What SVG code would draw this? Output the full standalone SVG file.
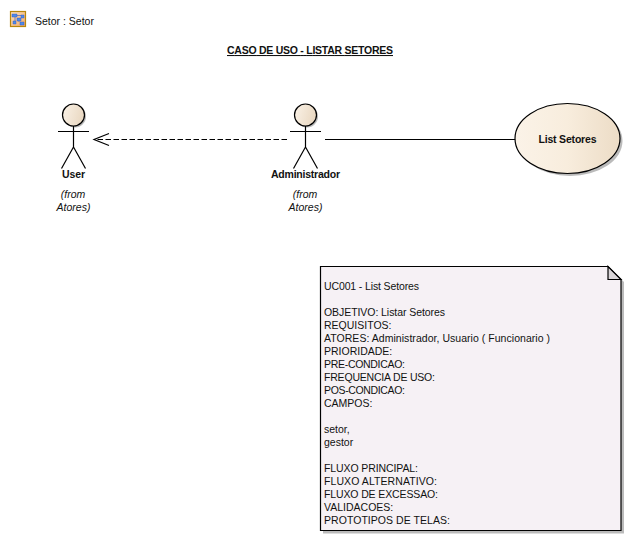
<svg xmlns="http://www.w3.org/2000/svg" width="630" height="540" viewBox="0 0 630 540">
<style>
text{font-family:"Liberation Sans",Arial,sans-serif;font-size:10.5px;fill:#111}
.b{font-weight:bold}
.i{font-style:italic}
.m{text-anchor:middle}
.l{fill:none;stroke:#000;stroke-width:1.2}
.sh{fill:#bbb}
.head{fill:url(#hg);stroke:#000;stroke-width:1.2}
</style>
<defs>
<linearGradient id="hg" x1="0" y1="0" x2="1" y2="0.3"><stop offset="0" stop-color="#fbf3e8"/><stop offset="1" stop-color="#ead9c3"/></linearGradient>
<linearGradient id="ug" x1="0" y1="0" x2="1" y2="0"><stop offset="0" stop-color="#fbf3e8"/><stop offset="0.5" stop-color="#f8eddd"/><stop offset="1" stop-color="#ecdcc6"/></linearGradient>
<linearGradient id="ig" x1="0" y1="0" x2="1" y2="1"><stop offset="0" stop-color="#fbe3c0"/><stop offset="1" stop-color="#f0a868"/></linearGradient>
<g id="actor">
<circle cx="1.500" cy="1.500" r="11" class="sh"/>
<circle cx="0" cy="0" r="11" class="head"/>
<path class="l" d="M-15.500 16.500H15.500M0 11V32M0 32L-12 53.500M0 32L12 53.500"/>
</g>
</defs>
<g id="header">
<rect x="10.500" y="11.500" width="15" height="15" fill="url(#ig)" stroke="#b8860b" stroke-width="1.200"/>
<path d="M12 14h5v3h-5zM17 18h4v3h-4zM13 21h3v3h-3zM21 15h3v3h-3zM20 22h4v3h-4z" fill="#4f8ae8" stroke="#2a50c0" stroke-width=".4"/>
<path d="M17 15.500H21M15 17V21M19 21V22" fill="none" stroke="#2a50c0" stroke-width=".6"/>
<text x="35" y="25">Setor : Setor</text>
</g>
<g id="title">
<text x="227" y="54" class="b" text-decoration="underline" textLength="166" lengthAdjust="spacing">CASO DE USO - LISTAR SETORES</text>
</g>
<g id="connectors">
<path d="M287 139.500H94" fill="none" stroke="#000" stroke-width="1.100" stroke-dasharray="5.500 2.500"/>
<path class="l" d="M109 133.500L94 139.500L109 145.500"/>
<path class="l" d="M325 139.500H516"/>
</g>
<g id="user">
<use href="#actor" x="73.500" y="115"/>
<text x="73.500" y="178" class="b m" textLength="23">User</text>
<text x="73" y="198" class="i m">(from</text>
<text x="73.500" y="211" class="i m">Atores)</text>
</g>
<g id="administrador">
<use href="#actor" x="305.500" y="115"/>
<text x="305.500" y="178" class="b m" textLength="69">Administrador</text>
<text x="305" y="198" class="i m">(from</text>
<text x="305.500" y="211" class="i m">Atores)</text>
</g>
<g id="list-setores">
<ellipse cx="570" cy="141" rx="52.500" ry="35" class="sh"/>
<ellipse cx="567.500" cy="138.500" rx="52.500" ry="35" fill="url(#ug)" stroke="#000" stroke-width="1.200"/>
<text x="567.500" y="143" class="b m" textLength="58">List Setores</text>
</g>
<g id="note">
<path class="sh" d="M323 269H611L624 282V533.500H323Z"/>
<path d="M320.500 266.500H608L621 279.500V530.500H320.500Z" fill="#f6f1f5" stroke="#000" stroke-width="1.200"/>
<path d="M608 266.500V279.500H621Z" fill="#d9d5d8" stroke="#000" stroke-width="1.200"/>
<text x="324" y="290" textLength="95">UC001 - List Setores</text>
<text x="324" y="316" textLength="121">OBJETIVO: Listar Setores</text>
<text x="324" y="329">REQUISITOS:</text>
<text x="324" y="342" textLength="226">ATORES: Administrador, Usuario ( Funcionario )</text>
<text x="324" y="355">PRIORIDADE:</text>
<text x="324" y="368" textLength="81">PRE-CONDICAO:</text>
<text x="324" y="381" textLength="111">FREQUENCIA DE USO:</text>
<text x="324" y="394" textLength="81">POS-CONDICAO:</text>
<text x="324" y="407">CAMPOS:</text>
<text x="324" y="433">setor,</text>
<text x="324" y="446">gestor</text>
<text x="324" y="472" textLength="94">FLUXO PRINCIPAL:</text>
<text x="324" y="485" textLength="113">FLUXO ALTERNATIVO:</text>
<text x="324" y="498" textLength="114">FLUXO DE EXCESSAO:</text>
<text x="324" y="511">VALIDACOES:</text>
<text x="324" y="524" textLength="126">PROTOTIPOS DE TELAS:</text>
</g>
</svg>
